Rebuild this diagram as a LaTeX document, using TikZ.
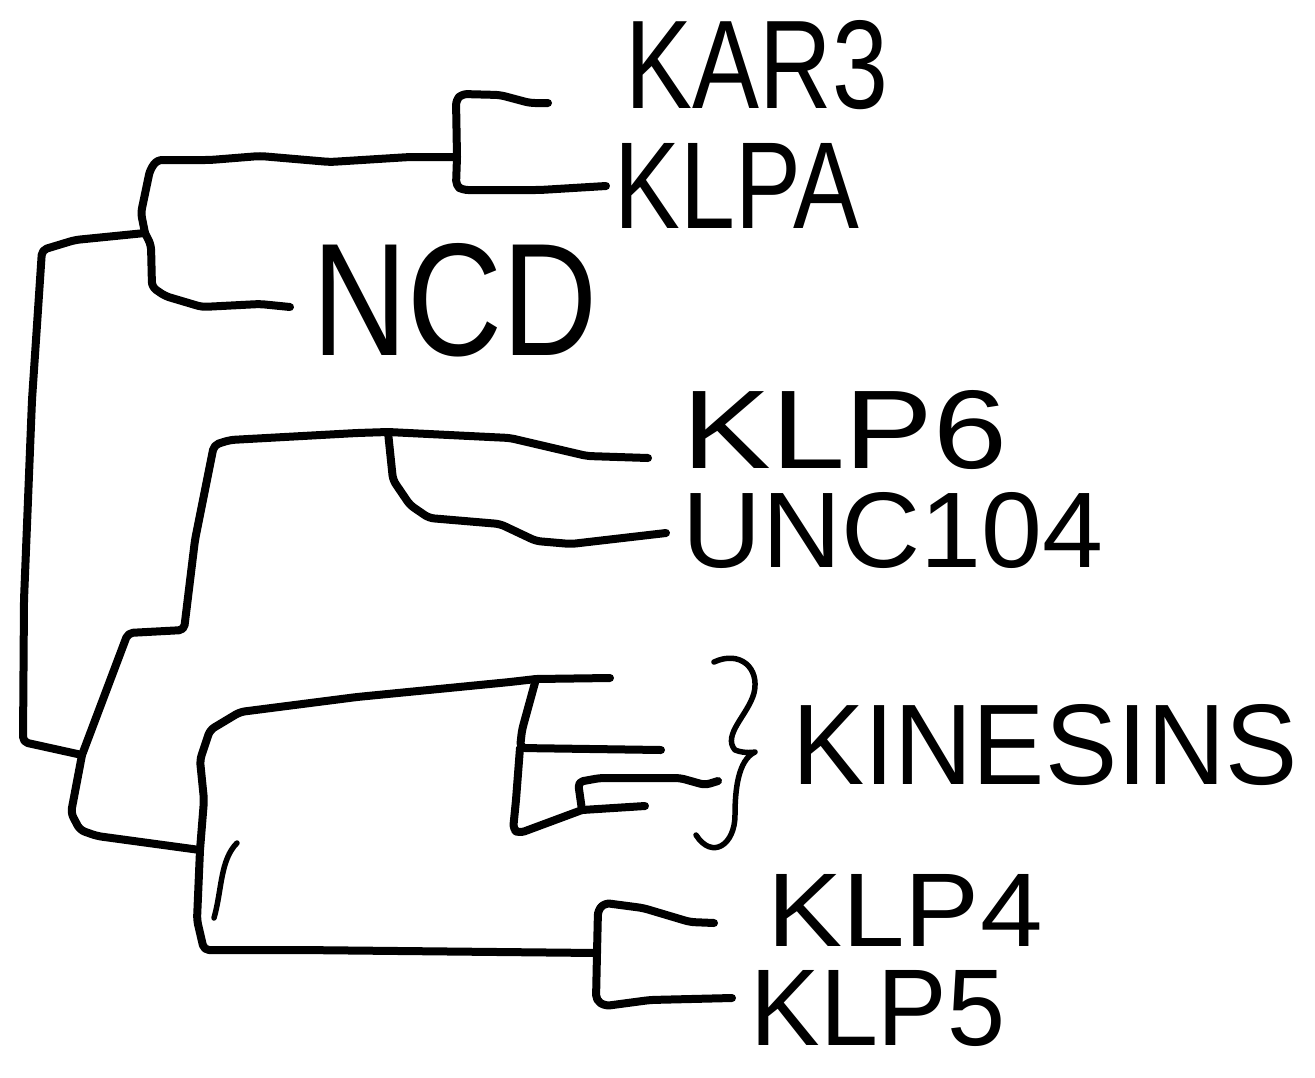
\documentclass[tikz,border=0pt]{standalone}
\usepackage{fontspec}
\usepackage{graphicx}
\setmainfont{Liberation Sans}
\begin{document}
\begin{tikzpicture}[x=1pt,y=-1pt,
  br/.style={line width=8pt, line cap=round, line join=round, rounded corners=5pt},
  thin br/.style={line width=5.5pt, line cap=round, line join=round},
  lbl/.style={inner sep=0pt, anchor=center}]
\useasboundingbox (0,0) rectangle (1315,1077);
% internal nodes
\coordinate (root) at (42,250);
\coordinate (A) at (145,233);
\coordinate (B) at (457,157);
\coordinate (C) at (82,755);
\coordinate (D) at (388,432);
\coordinate (E) at (200,850);
\coordinate (F) at (536,679);
\coordinate (H) at (582,810);
\coordinate (G) at (597,953);
% leaf ends
\coordinate (kar) at (548,103);
\coordinate (klpa) at (606,186);
\coordinate (ncd) at (290,307);
\coordinate (klp6) at (648,458);
\coordinate (unc) at (666,533);
\coordinate (k1) at (610,678);
\coordinate (k2) at (661,750);
\coordinate (k3) at (718,781);
\coordinate (k4) at (645,806);
\coordinate (klp4) at (714,923);
\coordinate (klp5) at (732,998);
% branches
\draw[br] (A) -- (75,240) -- (root) -- (32,400) -- (24,600) -- (23,742) -- (C);
\draw[br] (A) -- (141,213) -- (150,170) -- (157,160) -- (210,160) -- (260,156) -- (330,162) -- (410,157) -- (B);
\draw[br] (A) -- (151,245) -- (152,287) -- (165,296) -- (202,307) -- (260,304) -- (ncd);
\draw[br] (B) -- (456,100) -- (462,94) -- (500,95) -- (530,103) -- (kar);
\draw[br] (B) -- (456,186) -- (463,190) -- (540,190) -- (klpa);
\draw[br] (C) -- (128,633) -- (184,630) -- (195,540) -- (214,445) -- (230,440) -- (357,433) -- (D);
\draw[br] (D) -- (510,438) -- (587,456) -- (klp6);
\draw[br] (D) -- (393,480) -- (410,505) -- (429,518) -- (500,524) -- (536,541) -- (571,544) -- (unc);
\draw[br] (C) -- (71,813) -- (80,830) -- (97,836) -- (E);
\draw[br] (E) -- (204,800) -- (200,760) -- (210,730) -- (240,712) -- (357,697) -- (510,682) -- (F);
\draw[br] (F) -- (k1);
\draw[br] (F) -- (522,730) -- (520,748) -- (k2);
\draw[br] (520,748) -- (516,800) -- (513,830) -- (520,833) -- (H);
\draw[br] (H) -- (578,782) -- (600,778) -- (680,778) -- (705,785) -- (k3);
\draw[br] (H) -- (k4);
\draw[br] (E) -- (197,920) -- (204,950) -- (300,950) -- (G);
\draw[br] (G) -- (598,910) -- (605,903) -- (643,908) -- (690,922) -- (klp4);
\draw[br] (G) -- (596,1000) -- (605,1006) -- (650,1000) -- (klp5);
% stray pen stroke
\draw[thin br] (237,843) .. controls (220,860) and (222,890) .. (214,918);
% brace
\draw[thin br] (714,662) .. controls (740,650) and (760,668) .. (754,693)
  .. controls (748,715) and (722,735) .. (735,750)
  .. controls (745,754) and (755,752) .. (755,752)
  .. controls (738,760) and (735,790) .. (735,815)
  .. controls (735,845) and (712,860) .. (696,835);
% labels
\node[lbl] (tKAR) at (757,65) {\resizebox{262pt}{88pt}{KAR3}};
\node[lbl] (tKLPA) at (737,186) {\resizebox{245pt}{85pt}{KLPA}};
\node[lbl] (tNCD) at (455,300) {\resizebox{285pt}{112pt}{NCD}};
\node[lbl] (tKLP6) at (845,430) {\resizebox{325pt}{78pt}{KLP6}};
\node[lbl] (tUNC) at (893,530) {\resizebox{420pt}{75pt}{UNC104}};
\node[lbl] (tKIN) at (1045,745) {\resizebox{505pt}{80pt}{KINESINS}};
\node[lbl] (tKLP4) at (905,910) {\resizebox{275pt}{72pt}{KLP4}};
\node[lbl] (tKLP5) at (878,1008) {\resizebox{255pt}{75pt}{KLP5}};
\end{tikzpicture}
\end{document}
